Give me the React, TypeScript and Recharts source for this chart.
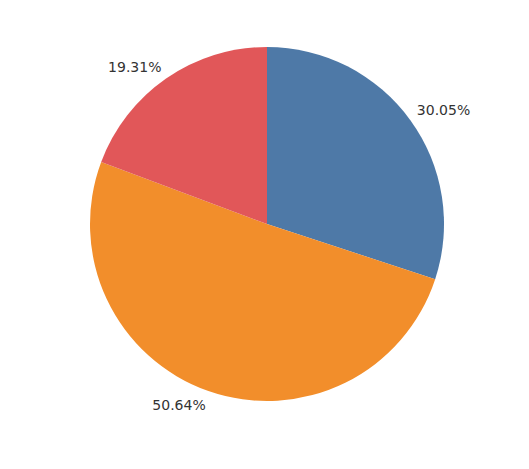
import { PieChart, Pie, Cell } from "recharts";

const segments = ["A", "B", "C"];
const shares = [30.05, 50.64, 19.31];
const COLORS = ["#4e79a7", "#f28e2b", "#e15759"];

const data = segments.map((name, i) => ({ name, value: shares[i] }));

const RADIAN = Math.PI / 180;

// label box sits just outside the slice, corner nearest the pie at the anchor point
const renderLabel = ({ cx, cy, midAngle, outerRadius, index }: any) => {
  const r = outerRadius + 8;
  const x = cx + r * Math.cos(-midAngle * RADIAN);
  const y = cy + r * Math.sin(-midAngle * RADIAN);
  const below = y > cy;
  return (
    <text
      x={x}
      y={below ? y + 11 : y}
      textAnchor={x > cx ? "start" : "end"}
      fill="#333"
      fontSize={14}
      fontFamily="'DejaVu Sans', sans-serif"
    >
      {shares[index].toFixed(2)}%
    </text>
  );
};

export default function App() {
  return (
    <PieChart width={529} height={469} style={{ margin: -8 }}>
      <Pie
        data={data}
        dataKey="value"
        nameKey="name"
        cx={262}
        cy={219}
        outerRadius={177}
        startAngle={90}
        endAngle={-270}
        stroke="none"
        label={renderLabel}
        labelLine={false}
        isAnimationActive={false}
      >
        {data.map((_, i) => (
          <Cell key={`cell-${i}`} fill={COLORS[i]} />
        ))}
      </Pie>
    </PieChart>
  );
}
